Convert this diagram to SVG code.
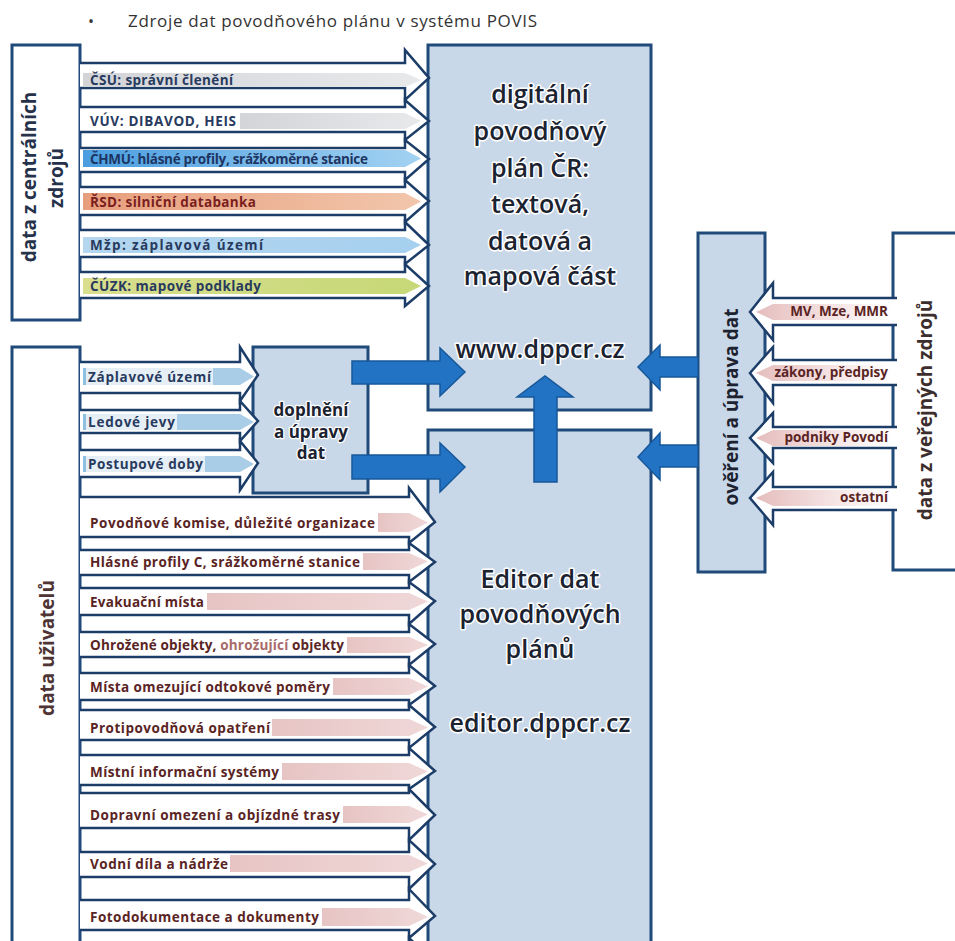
<svg xmlns="http://www.w3.org/2000/svg" width="955" height="941" viewBox="0 0 955 941">
<defs>
<style>
.box{fill:#c9d8e8;stroke:#1f4a7a;stroke-width:3}
.wbox{fill:#ffffff;stroke:#1f4a7a;stroke-width:3}
.arr{fill:#ffffff;stroke:#1c3d68;stroke-width:2.5;stroke-linejoin:miter}
.blue{fill:#2373c4;stroke:#17589b;stroke-width:1.5}
.big{font-family:"Open Sans","Noto Sans",sans-serif;font-weight:600;font-size:25px;fill:#1b2230;text-anchor:middle;stroke:#ffffff;stroke-width:3;paint-order:stroke;stroke-linejoin:round}
.mid{font-family:"Open Sans","Noto Sans",sans-serif;font-weight:700;font-size:17px;fill:#1b2230;text-anchor:middle;stroke:#ffffff;stroke-width:2.5;paint-order:stroke;stroke-linejoin:round}
.side{font-family:"Open Sans","Noto Sans",sans-serif;font-weight:700;font-size:19px;text-anchor:middle;dominant-baseline:central}
.lbl{font-family:"Open Sans","Noto Sans",sans-serif;font-weight:700;font-size:13.5px}
.nav{fill:#283a5e}
.mar{fill:#5a2424}
.pink{fill:url(#gPink)}
</style>
<linearGradient id="gGray" x1="0" x2="1" y1="0" y2="0"><stop offset="0" stop-color="#d2d4d8"/><stop offset="1" stop-color="#e8e9eb"/></linearGradient>
<linearGradient id="gBlue" x1="0" x2="1" y1="0" y2="0"><stop offset="0" stop-color="#4a9ee0"/><stop offset="1" stop-color="#a3d2f2"/></linearGradient>
<linearGradient id="gOr" x1="0" x2="1" y1="0" y2="0"><stop offset="0" stop-color="#e79e7c"/><stop offset="1" stop-color="#f2c6ac"/></linearGradient>
<linearGradient id="gLb" x1="0" x2="1" y1="0" y2="0"><stop offset="0" stop-color="#b4d6ee"/><stop offset="1" stop-color="#a6d0ef"/></linearGradient>
<linearGradient id="gYg" x1="0" x2="1" y1="0" y2="0"><stop offset="0" stop-color="#d9de8e"/><stop offset="1" stop-color="#c6d877"/></linearGradient>
<linearGradient id="gPink" x1="0" x2="1" y1="0" y2="0"><stop offset="0" stop-color="#e7c4c4"/><stop offset="1" stop-color="#f0d8d8"/></linearGradient>
<linearGradient id="gPinkR" x1="0" x2="1" y1="0" y2="0"><stop offset="0" stop-color="#e5bdbd"/><stop offset="0.6" stop-color="#f6e6e6"/><stop offset="1" stop-color="#ffffff"/></linearGradient>
</defs>
<rect x="0" y="0" width="955" height="941" fill="#ffffff"/>

<g id="title">
<text x="88" y="27" font-family="'Open Sans','Noto Sans',sans-serif" font-size="16" fill="#3a3a3a">•</text>
<text x="128" y="27" font-family="'Open Sans','Noto Sans',sans-serif" font-size="17" fill="#333333" textLength="409">Zdroje dat povodňového plánu v systému POVIS</text>
</g>

<g id="central-sources">
<rect class="wbox" x="12" y="45" width="68" height="275"/>
<text class="side" fill="#26314a" transform="translate(29,177) rotate(-90)">data z centrálních</text>
<text class="side" fill="#26314a" transform="translate(56,178) rotate(-90)">zdrojů</text>
</g>

<g id="user-data">
<rect class="wbox" x="12" y="347" width="68" height="620"/>
<text class="side" fill="#4e3434" font-size="20" transform="translate(47,648) rotate(-90)">data uživatelů</text>
</g>

<g id="dpp-main">
<rect class="box" x="428" y="45" width="223" height="365"/>
<text class="big" x="540" y="103">digitální</text>
<text class="big" x="540" y="140">povodňový</text>
<text class="big" x="540" y="177">plán ČR:</text>
<text class="big" x="540" y="213">textová,</text>
<text class="big" x="540" y="250">datová a</text>
<text class="big" x="540" y="285">mapová část</text>
<text class="big" x="540" y="358">www.dppcr.cz</text>
</g>

<g id="editor">
<rect class="box" x="428" y="430" width="223" height="530"/>
<text class="big" x="540" y="588">Editor dat</text>
<text class="big" x="540" y="623">povodňových</text>
<text class="big" x="540" y="658">plánů</text>
<text class="big" x="540" y="732">editor.dppcr.cz</text>
</g>

<g id="doplneni">
<rect class="box" x="253" y="347" width="115" height="146"/>
<text class="mid" x="311" y="416">doplnění</text>
<text class="mid" x="311" y="438">a úpravy</text>
<text class="mid" x="311" y="459">dat</text>
</g>

<g id="overeni">
<rect class="box" x="698" y="233" width="67" height="339"/>
<text class="side" fill="#1c2230" font-size="20.5" transform="translate(731,407) rotate(-90)">ověření a úprava dat</text>
</g>

<g id="public-sources">
<rect class="wbox" x="893" y="233" width="80" height="337"/>
<text class="side" fill="#3d2e2e" font-weight="600" font-size="19.5" transform="translate(925,410) rotate(-90)">data z veřejných zdrojů</text>
</g>

<g id="connectors">
<!-- central sources -> main -->
<path class="arr" d="M80,63 H405 V50 L429,78 L405,100 V88 H80"/>
<polygon fill="url(#gGray)" points="83,73 405,73 421,80 405,87 83,87"/>
<text class="lbl nav" x="90" y="85" textLength="143">ČSÚ: správní členění</text>

<path class="arr" d="M80,107 H405 V100 L429,121 L405,140 V132 H80"/>
<polygon fill="url(#gGray)" points="240,113 405,113 421,121 405,129 240,129"/>
<text class="lbl nav" x="90" y="126" textLength="146">VÚV: DIBAVOD, HEIS</text>

<path class="arr" d="M80,148 H405 V140 L429,159 L405,180 V172 H80"/>
<polygon fill="url(#gBlue)" points="83,150 405,150 421,158.5 405,167 83,167"/>
<text class="lbl" fill="#1d3563" x="90" y="163.5" textLength="278">ČHMÚ: hlásné profily, srážkoměrné stanice</text>

<path class="arr" d="M80,187 H405 V180 L429,201 L405,222 V215 H80"/>
<polygon fill="url(#gOr)" points="83,193 405,193 421,201.5 405,210 83,210"/>
<text class="lbl" fill="#7a1e1e" x="90" y="206.5" textLength="166">ŘSD: silniční databanka</text>

<path class="arr" d="M80,230 H405 V222 L429,245 L405,264 V257 H80"/>
<polygon fill="url(#gLb)" points="83,237 405,237 421,245 405,253 83,253"/>
<text class="lbl nav" x="90" y="250" textLength="173">Mžp: záplavová území</text>

<path class="arr" d="M80,272 H405 V264 L429,286 L405,306 V298 H80"/>
<polygon fill="url(#gYg)" points="83,278 405,278 421,286 405,294 83,294"/>
<text class="lbl nav" x="90" y="291" textLength="171">ČÚZK: mapové podklady</text>

<!-- user data -> doplneni -->
<path class="arr" d="M80,362 H240 V347 L258,375 L240,401 V393 H80"/>
<rect x="83" y="368" width="157" height="17" fill="#e6eff6"/>
<rect x="83" y="368" width="3" height="17" fill="#8fc0e0"/>
<polygon fill="#a9cde6" points="213,368 240,368 254,376.5 240,385 213,385"/>
<text class="lbl nav" x="88" y="381.5" textLength="123">Záplavové území</text>

<path class="arr" d="M80,410 H240 V401 L258,421 L240,441 V433 H80"/>
<rect x="83" y="414" width="157" height="16" fill="#e6eff6"/>
<rect x="83" y="414" width="3" height="16" fill="#8fc0e0"/>
<polygon fill="#a9cde6" points="177,414 240,414 254,422 240,430 177,430"/>
<text class="lbl nav" x="88" y="427" textLength="87">Ledové jevy</text>

<path class="arr" d="M80,450 H240 V441 L258,463 L240,490 V477 H80"/>
<rect x="83" y="456" width="157" height="16" fill="#e6eff6"/>
<rect x="83" y="456" width="3" height="16" fill="#8fc0e0"/>
<polygon fill="#a9cde6" points="205,456 240,456 254,464 240,472 205,472"/>
<text class="lbl nav" x="88" y="469" textLength="115">Postupové doby</text>

<!-- user data -> editor -->
<path class="arr" d="M80,497 H409 V488 L435,522 L409,543 V537 H80"/>
<polygon class="pink" points="378,513 409,513 428,522.5 409,532 378,532"/>
<text class="lbl mar" x="90" y="527.5" textLength="285">Povodňové komise, důležité organizace</text>

<path class="arr" d="M80,550 H409 V543 L435,562 L409,582 V575 H80"/>
<polygon class="pink" points="363,553 409,553 428,561.5 409,570 363,570"/>
<text class="lbl mar" x="90" y="566.5" textLength="270">Hlásné profily C, srážkoměrné stanice</text>

<path class="arr" d="M80,588 H409 V582 L435,601 L409,624 V615 H80"/>
<polygon class="pink" points="207,593 409,593 428,601.5 409,610 207,610"/>
<text class="lbl mar" x="90" y="606.5" textLength="114">Evakuační místa</text>

<path class="arr" d="M80,632 H409 V624 L435,644 L409,665 V657 H80"/>
<polygon class="pink" points="347,637 409,637 428,645 409,653 347,653"/>
<text class="lbl mar" x="90" y="650" textLength="254">Ohrožené objekty, <tspan fill="#a86a6a">ohrožující</tspan> objekty</text>

<path class="arr" d="M80,673 H409 V665 L435,686 L409,705 V700 H80"/>
<polygon class="pink" points="333,678 409,678 428,686.5 409,695 333,695"/>
<text class="lbl mar" x="90" y="691.5" textLength="240">Místa omezující odtokové poměry</text>

<path class="arr" d="M80,710 H409 V705 L435,727 L409,748 V740 H80"/>
<polygon class="pink" points="272,719 409,719 428,727.5 409,736 272,736"/>
<text class="lbl mar" x="90" y="732.5" textLength="180">Protipovodňová opatření</text>

<path class="arr" d="M80,755 H409 V748 L435,771 L409,789 V785 H80"/>
<polygon class="pink" points="282,763 409,763 428,771.5 409,780 282,780"/>
<text class="lbl mar" x="90" y="776.5" textLength="189">Místní informační systémy</text>

<path class="arr" d="M80,793 H409 V789 L435,815 L409,840 V828 H80"/>
<polygon class="pink" points="343,806 409,806 428,814.5 409,823 343,823"/>
<text class="lbl mar" x="90" y="819.5" textLength="250">Dopravní omezení a objízdné trasy</text>

<path class="arr" d="M80,852 H409 V840 L435,864 L409,889 V877 H80"/>
<polygon class="pink" points="230,855 409,855 428,863.5 409,872 230,872"/>
<text class="lbl mar" x="90" y="868.5" textLength="138">Vodní díla a nádrže</text>

<path class="arr" d="M80,900 H409 V889 L435,916 L409,938 V930 H80"/>
<polygon class="pink" points="322,908 409,908 428,917 409,926 322,926"/>
<text class="lbl mar" x="90" y="922" textLength="229">Fotodokumentace a dokumenty</text>

<path class="arr" d="M80,948 H409 V938 L435,962 L409,985 V975 H80"/>

<!-- public sources -> overeni -->
<path class="arr" d="M897,298 H773 V283 L750,312 L773,340 V325 H897"/>
<polygon fill="url(#gPinkR)" points="756,312 773,304 892,304 892,320 773,320"/>
<text class="lbl mar" font-size="11.5" x="888" y="316" text-anchor="end">MV, Mze, MMR</text>

<path class="arr" d="M897,360 H773 V347 L750,373 L773,403 V385 H897"/>
<polygon fill="url(#gPinkR)" points="756,373 773,365 892,365 892,381 773,381"/>
<text class="lbl mar" font-size="11" x="888" y="377" text-anchor="end">zákony, předpisy</text>

<path class="arr" d="M897,427 H773 V413 L750,438 L773,463 V448 H897"/>
<polygon fill="url(#gPinkR)" points="756,438 773,430 892,430 892,446 773,446"/>
<text class="lbl mar" font-size="11" x="888" y="442" text-anchor="end">podniky Povodí</text>

<path class="arr" d="M897,487 H773 V472 L750,498 L773,525 V510 H897"/>
<polygon fill="url(#gPinkR)" points="756,498 773,490 892,490 892,506 773,506"/>
<text class="lbl mar" font-size="11.5" x="888" y="502" text-anchor="end">ostatní</text>

<!-- big blue arrows -->
<path class="blue" d="M352,361 H440 V348 L465,372 L440,396 V384 H352 Z"/>
<path class="blue" d="M352,455 H440 V443 L465,467 L440,492 V479 H352 Z"/>
<path class="blue" d="M534,482 V397 H517 L545,376 L573,397 H557 V482 Z"/>
<path class="blue" d="M698,357 H660 V345 L638,367 L660,390 V377 H698 Z"/>
<path class="blue" d="M698,445 H660 V433 L638,457 L660,480 V467 H698 Z"/>
</g>
</svg>
